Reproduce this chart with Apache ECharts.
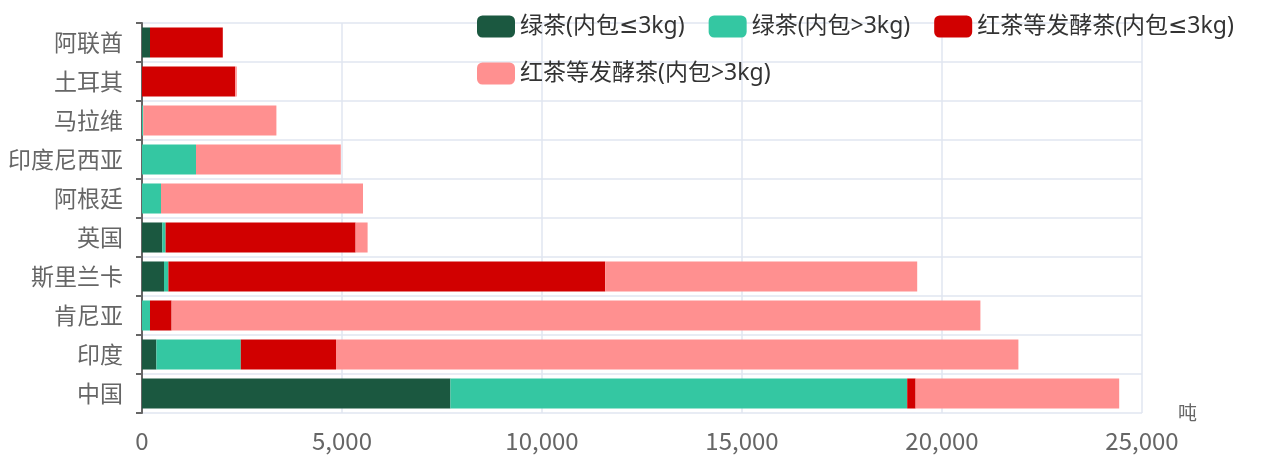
<!DOCTYPE html>
<html><head><meta charset="utf-8">
<script src="https://cdn.jsdelivr.net/npm/echarts@6/dist/echarts.min.js"></script>
<style>html,body{margin:0;padding:0;background:#fff}#c{width:1269px;height:459px}</style>
</head><body><div id="c"></div>
<script>
const categories = ['中国','印度','肯尼亚','斯里兰卡','英国','阿根廷','印度尼西亚','马拉维','土耳其','阿联酋'];
const seriesNames = ['绿茶(内包≤3kg)','绿茶(内包>3kg)','红茶等发酵茶(内包≤3kg)','红茶等发酵茶(内包>3kg)'];
const greenSmall = [7710, 360, 0, 550, 510, 0, 0, 0, 0, 200];
const greenLarge = [11420, 2110, 200, 110, 80, 475, 1350, 30, 0, 0];
const blackSmall = [210, 2380, 540, 10920, 4750, 0, 0, 0, 2330, 1820];
const blackLarge = [5090, 17060, 20220, 7800, 300, 5050, 3620, 3330, 40, 0];
const xTicks = {min: 0, max: 25000, interval: 5000};
const colors = ['#1b5840', '#34c7a2', '#d10000', '#ff9090'];
const font = '"Noto Sans CJK SC", "Microsoft YaHei", sans-serif';
const legendFont = '"Noto Sans", "DejaVu Sans", "Noto Sans CJK SC", sans-serif';
const values = [greenSmall, greenLarge, blackSmall, blackLarge];
const chart = echarts.init(document.getElementById('c'));
chart.setOption({
  animation: false,
  color: colors,
  textStyle: {fontFamily: font},
  legend: {
    left: 472, top: 10, width: 790,
    itemWidth: 38, itemHeight: 22, itemGap: 24,
    icon: 'roundRect',
    textStyle: {fontSize: 23, color: '#333', fontFamily: legendFont}
  },
  grid: {left: 142, right: 127, top: 23, bottom: 46, containLabel: false},
  xAxis: {
    type: 'value', min: xTicks.min, max: xTicks.max, interval: xTicks.interval,
    name: '吨', nameLocation: 'end', nameGap: 36,
    nameTextStyle: {fontSize: 19, color: '#666', padding: [0, 0, 12, 0], fontFamily: font},
    axisLine: {show: false}, axisTick: {show: false},
    axisLabel: {fontSize: 24, color: '#666', margin: 16, fontFamily: font},
    splitLine: {show: true, lineStyle: {color: '#e0e6f1', width: 1.5}}
  },
  yAxis: {
    type: 'category', data: categories,
    axisLine: {show: true, lineStyle: {color: '#666', width: 2}},
    axisTick: {show: true, length: 6, lineStyle: {color: '#666', width: 2}},
    axisLabel: {fontSize: 23, color: '#666', margin: 19, fontFamily: font},
    splitLine: {show: true, lineStyle: {color: '#e0e6f1', width: 1.5}}
  },
  series: seriesNames.map((n, i) => ({
    name: n, type: 'bar', stack: 'total', barWidth: '77%',
    data: values[i]
  }))
});
</script></body></html>
